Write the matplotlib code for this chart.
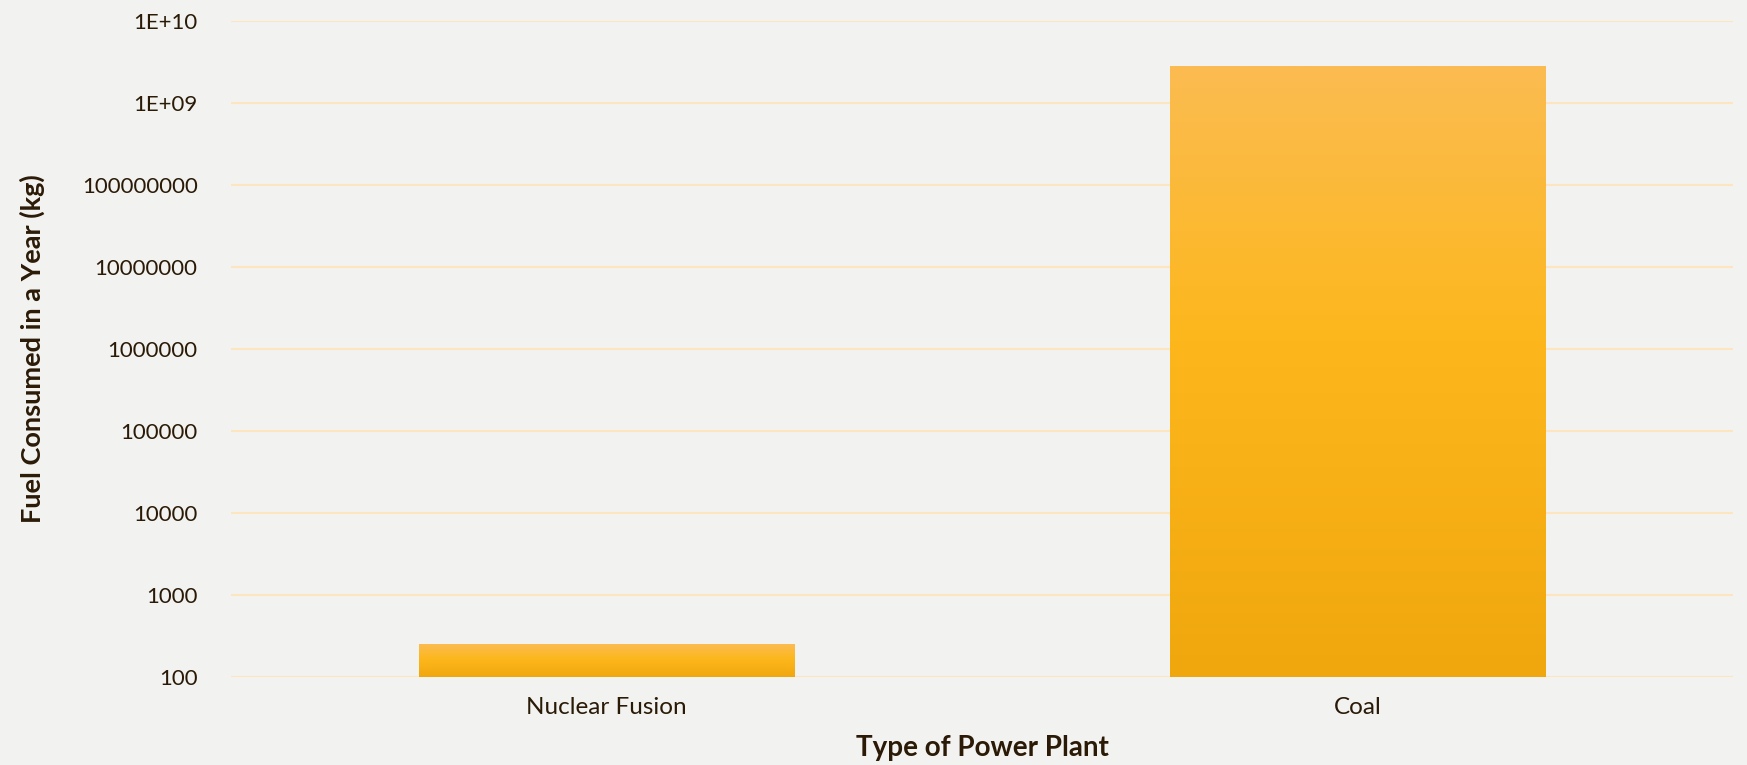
import numpy as np
import matplotlib.pyplot as plt
from matplotlib.colors import LinearSegmentedColormap
from matplotlib.ticker import FixedLocator, FuncFormatter

plt.rcParams['font.family'] = ['Lato', 'DejaVu Sans']

categories = ['Nuclear Fusion', 'Coal']
fuel_kg = [250, 2.7e9]
tick_values = [1e2, 1e3, 1e4, 1e5, 1e6, 1e7, 1e8, 1e9, 1e10]
tick_labels = ['100', '1000', '10000', '100000', '1000000', '10000000',
               '100000000', '1E+09', '1E+10']

text_col = '#2a1a06'
bg = '#f2f2f1'
grad = LinearSegmentedColormap.from_list(
    'bar', [(0, '#f0a70e'), (0.55, '#fdb71c'), (1, '#fbbc51')])

fig = plt.figure(figsize=(17.47, 7.65), dpi=100, facecolor=bg)
ax = fig.add_axes([0.1322, 0.1144, 0.8598, 0.8588], facecolor=bg)
ax.set_yscale('log')
ax.set_ylim(1e2, 1e10)
ax.set_xlim(-0.5, 1.5)

x = np.arange(len(categories))
base = 1e2
bars = ax.bar(x, np.array(fuel_kg) - base, width=0.5, bottom=base, color='none', zorder=2)

# gradient fill per bar, stretched over the bar's own height
to_axes = ax.transData + ax.transAxes.inverted()
g = np.linspace(0, 1, 256).reshape(-1, 1)
for b in bars:
    (x0, y0), (x1, y1) = to_axes.transform([(b.get_x(), b.get_y()),
                                            (b.get_x() + b.get_width(), b.get_y() + b.get_height())])
    ax.imshow(g, cmap=grad, origin='lower', aspect='auto',
              extent=(x0, x1, y0, y1), transform=ax.transAxes, zorder=2)

ax.yaxis.set_major_locator(FixedLocator(tick_values))
ax.yaxis.set_minor_locator(FixedLocator([]))
ax.yaxis.set_major_formatter(FuncFormatter(lambda v, p: tick_labels[tick_values.index(v)] if v in tick_values else ''))
ax.set_xticks(x)
ax.set_xticklabels(categories)
ax.tick_params(axis='both', length=0, labelcolor=text_col)
ax.tick_params(axis='y', pad=24, labelsize=16)
ax.tick_params(axis='x', pad=14, labelsize=17.5)

ax.grid(axis='y', color='#fde6bf', linewidth=1.5, zorder=0)
ax.set_axisbelow(True)
for s in ax.spines.values():
    s.set_visible(False)

ax.set_xlabel('Type of Power Plant', fontsize=20, fontweight='bold', color=text_col, labelpad=12)
ax.set_ylabel('Fuel Consumed in a Year (kg)', fontsize=19.5, fontweight='bold', color=text_col)
ax.yaxis.set_label_coords(-0.124, 0.5)

fig.savefig('out.png', dpi=100, facecolor=bg)
